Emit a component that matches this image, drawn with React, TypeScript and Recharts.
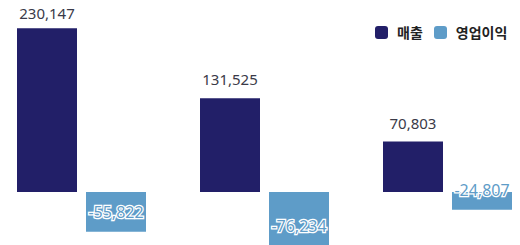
import { BarChart, Bar, XAxis, YAxis, Legend, LabelList } from "recharts";

const categories = ["A", "B", "C"];
const revenue = [230147, 131525, 70803];
const operatingProfit = [-55822, -76234, -24807];
const seriesNames = ["매출", "영업이익"];

const NAVY = "#221f68";
const BLUE = "#5e9cc8";

const data = categories.map((name, i) => ({
  name,
  revenue: revenue[i],
  profit: operatingProfit[i],
}));

const fmt = (v: number) => v.toLocaleString("en-US");

function TopLabel(props: any) {
  const box = props.viewBox || props;
  const { x, y, width } = box;
  const top = Math.min(y, y + box.height);
  // keep the tallest label inside the visible area
  const ly = Math.max(top - 13, 19);
  return (
    <text
      x={x + width / 2}
      y={ly}
      textAnchor="middle"
      fill="#3a3a48"
      fontSize={15}
      fontFamily="Noto Sans"
    >
      {fmt(props.value)}
    </text>
  );
}

function EndLabel(props: any) {
  const box = props.viewBox || props;
  const { x, y, width, height } = box;
  const end = Math.max(y, y + height);
  return (
    <text
      x={x + width / 2}
      y={end - 14}
      textAnchor="middle"
      fill={BLUE}
      stroke="#fff"
      strokeWidth={2.5}
      paintOrder="stroke"
      fontSize={16}
      fontFamily="Noto Sans"
    >
      {fmt(props.value)}
    </text>
  );
}

function LegendBox() {
  const colors = [NAVY, BLUE];
  return (
    <div style={{ display: "flex", alignItems: "center", fontFamily: "Noto Sans CJK KR", fontWeight: 700, fontSize: 14, color: "#222" }}>
      {seriesNames.map((n, i) => (
        <div key={n} style={{ display: "flex", alignItems: "center", marginRight: i === 0 ? 11 : 0 }}>
          <span style={{ width: 13, height: 13, borderRadius: 3, background: colors[i], display: "inline-block", marginRight: 9 }} />
          <span>{n}</span>
        </div>
      ))}
    </div>
  );
}

export default function App() {
  return (
    <div style={{ position: "relative", left: -8, top: -8, width: 520, height: 245, overflow: "hidden", background: "#fff" }}>
      <div style={{ position: "absolute", left: -10, top: 0 }}>
        <BarChart
          width={549}
          height={250}
          data={data}
          margin={{ top: 14, right: 0, bottom: 1, left: 0 }}
          barSize={60}
          barGap={9}
        >
          <XAxis dataKey="name" hide />
          <YAxis hide domain={[-80000, 250000]} />
          <Legend
            layout="horizontal"
            verticalAlign="middle"
            align="center"
            content={() => <LegendBox />}
            wrapperStyle={{ position: "absolute", top: 22, left: 385, width: "auto" }}
          />
          <Bar dataKey="revenue" fill={NAVY} isAnimationActive={false}>
            <LabelList dataKey="revenue" content={<TopLabel />} />
          </Bar>
          <Bar dataKey="profit" fill={BLUE} isAnimationActive={false}>
            <LabelList dataKey="profit" content={<EndLabel />} />
          </Bar>
        </BarChart>
      </div>
    </div>
  );
}
